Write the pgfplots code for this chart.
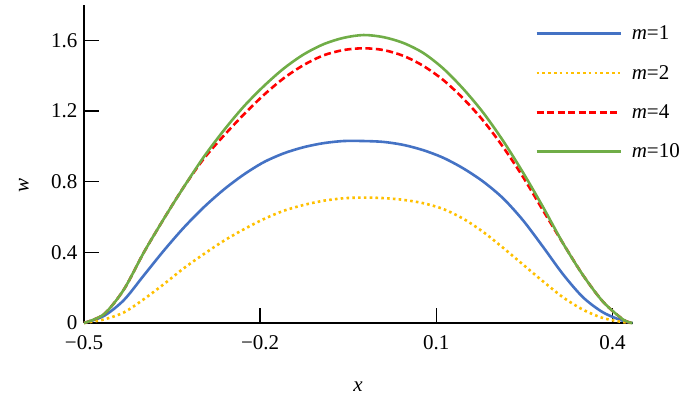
\documentclass[border=0pt]{standalone}
\usepackage{fontspec}
\setmainfont{Liberation Serif}
\usepackage{pgfplots}
\pgfplotsset{compat=1.18}
\definecolor{cblue}{RGB}{68,114,196}
\definecolor{cyellow}{RGB}{255,192,0}
\definecolor{cred}{RGB}{255,0,0}
\definecolor{cgreen}{RGB}{112,173,71}
\newcommand{\ff}{\fontsize{21}{25}\selectfont}
\begin{document}
\begin{tikzpicture}
\begin{axis}[
  scale only axis, width=549pt, height=318pt,
  xmin=-0.5, xmax=0.435, ymin=0, ymax=1.8,
  axis x line*=bottom, axis y line*=left,
  axis line style={line width=1.6pt, -},
  xtick={-0.5,-0.2,0.1,0.4}, xticklabels={−0.5,−0.2,0.1,0.4},
  ytick={0,0.4,0.8,1.2,1.6}, yticklabels={0,0.4,0.8,1.2,1.6},
  tick align=inside, major tick length=15pt,
  every tick/.style={black, line width=1.6pt},
  ticklabel style={font=\ff},
  xticklabel style={yshift=-9pt},
  yticklabel style={xshift=-3pt},
  xlabel={\textit{x}}, ylabel={\textit{w}},
  label style={font=\ff},
  xlabel style={at={([yshift=-64pt]axis description cs:0.499,0)}, anchor=center},
  ylabel style={at={([xshift=-60pt]axis description cs:0,0.431)}, anchor=center},
  legend style={at={(rel axis cs:0.8215,0.935)}, anchor=north west, draw=none, fill=none,
    font=\ff, row sep=24pt, column sep=10pt, inner sep=0pt,
    nodes={inner sep=0pt, anchor=west}},
  legend cell align=left,
  legend image code/.code={\draw[#1] (0pt,0pt) -- (84pt,0pt);},
  clip=false,
]
\addplot[cblue, line width=2.6pt, smooth] coordinates {
(-0.5,0) (-0.466,0.04) (-0.432,0.13) (-0.398,0.27) (-0.364,0.41) (-0.330,0.54) (-0.296,0.655) (-0.262,0.755) (-0.228,0.84) (-0.194,0.91) (-0.160,0.96) (-0.126,0.995) (-0.092,1.018) (-0.058,1.03) (-0.024,1.03) (0.010,1.025) (0.044,1.008) (0.078,0.978) (0.112,0.935) (0.146,0.875) (0.180,0.80) (0.214,0.705) (0.248,0.58) (0.282,0.43) (0.316,0.275) (0.350,0.145) (0.384,0.06) (0.418,0.012) (0.434,0)};
\addlegendentry{\textit{m}=1}
\addplot[cyellow, line width=2.6pt, smooth, dash pattern=on 2.6pt off 3.2pt] coordinates {
(-0.5,0) (-0.466,0.02) (-0.432,0.06) (-0.398,0.135) (-0.364,0.22) (-0.330,0.31) (-0.296,0.39) (-0.262,0.465) (-0.228,0.53) (-0.194,0.588) (-0.160,0.635) (-0.126,0.668) (-0.092,0.692) (-0.058,0.706) (-0.024,0.71) (0.010,0.707) (0.044,0.697) (0.078,0.678) (0.112,0.645) (0.146,0.59) (0.180,0.515) (0.214,0.425) (0.248,0.33) (0.282,0.235) (0.316,0.145) (0.350,0.075) (0.384,0.028) (0.418,0.005) (0.434,0)};
\addlegendentry{\textit{m}=2}
\addplot[cred, line width=2.6pt, smooth, dash pattern=on 7pt off 3.5pt] coordinates {
(-0.5,0) (-0.466,0.05) (-0.432,0.19) (-0.398,0.40) (-0.364,0.59) (-0.330,0.77) (-0.296,0.93) (-0.262,1.06) (-0.228,1.18) (-0.194,1.29) (-0.160,1.385) (-0.126,1.46) (-0.092,1.515) (-0.058,1.545) (-0.024,1.555) (0.010,1.545) (0.044,1.512) (0.078,1.455) (0.112,1.375) (0.146,1.27) (0.180,1.145) (0.214,0.995) (0.248,0.825) (0.282,0.636) (0.316,0.45) (0.350,0.27) (0.384,0.12) (0.418,0.02) (0.434,0)};
\addlegendentry{\textit{m}=4}
\addplot[cgreen, line width=2.6pt, smooth] coordinates {
(-0.5,0) (-0.466,0.05) (-0.432,0.19) (-0.398,0.40) (-0.364,0.59) (-0.330,0.77) (-0.296,0.94) (-0.262,1.09) (-0.228,1.225) (-0.194,1.34) (-0.160,1.44) (-0.126,1.52) (-0.092,1.578) (-0.058,1.614) (-0.024,1.63) (0.010,1.618) (0.044,1.585) (0.078,1.528) (0.112,1.44) (0.146,1.325) (0.180,1.19) (0.214,1.03) (0.248,0.85) (0.282,0.655) (0.316,0.45) (0.350,0.27) (0.384,0.12) (0.418,0.02) (0.434,0)};
\addlegendentry{\textit{m}=10}
\end{axis}
\pgfresetboundingbox
\path (-84pt,-72pt) rectangle (616pt,323pt);
\end{tikzpicture}
\end{document}
